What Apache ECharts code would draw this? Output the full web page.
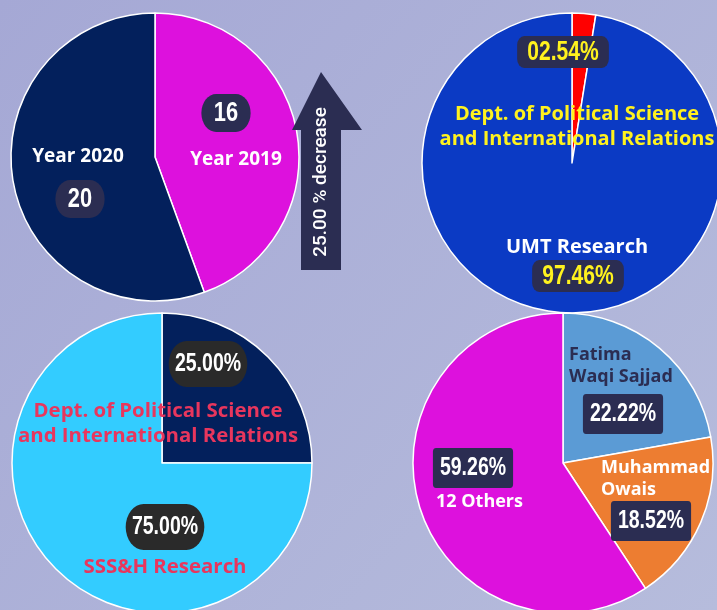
<!DOCTYPE html>
<html>
<head>
<meta charset="utf-8">
<script src="https://cdn.jsdelivr.net/npm/echarts@6/dist/echarts.min.js"></script>
<style>
  html, body { margin: 0; padding: 0; }
  #chart { width: 717px; height: 610px; }
</style>
</head>
<body>
<div id="chart"></div>
<script>
// data
const yearNames = ["Year 2019", "Year 2020"];
const yearValues = [16, 20];

const umtNames = ["Dept. of Political Science\nand International Relations", "UMT Research"];
const umtShares = [2.54, 97.46];

const sssNames = ["Dept. of Political Science\nand International Relations", "SSS&H Research"];
const sssShares = [25, 75];

const authorNames = ["Fatima\nWaqi Sajjad", "Muhammad\nOwais", "12 Others"];
const authorCounts = [6, 5, 16];

const NUM_FONT = '"Liberation Sans", Arial, sans-serif';
const NAME_FONT = '"Open Sans", "Noto Sans", sans-serif';
const SQUEEZE = 0.78; // value boxes use a condensed look

const pctText = (p) => p.toFixed(2).padStart(5, "0") + "%";

// layout of each pie: center, radius, colours and where labels sit (offset from center)
const pies = [
  {
    names: yearNames, values: yearValues,
    center: [155, 157], radius: 144,
    colors: ["#DD11DD", "#03205C"],
    valueText: (p) => String(p.value),
    box: { color: "#fff", backgroundColor: "#2B2D52", borderRadius: 19, padding: [5, 16, 5, 16], fontSize: 28 },
    valuePos: [[71, -44], [-75, 42]],
    nameColors: ["#fff", "#fff"], nameSize: 19, nameLH: 22,
    namePos: [[81, 3, "center"], [-77, 0, "center"]]
  },
  {
    names: umtNames, values: umtShares,
    center: [572, 163], radius: 150,
    colors: ["#FF0000", "#0B3AC4"],
    valueText: (p) => pctText(p.percent),
    box: { color: "#FFF21E", backgroundColor: "#2B2D52", borderRadius: 9, padding: [3, 13, 2, 13], fontSize: 27 },
    valuePos: [[-9, -111], [6, 113]],
    nameColors: ["#FFF21E", "#fff"], nameSize: 20, nameLH: 25,
    namePos: [[5, -36, "center"], [5, 84, "center"]]
  },
  {
    names: sssNames, values: sssShares,
    center: [162, 463], radius: 150,
    colors: ["#03205C", "#33CCFF"],
    valueText: (p) => pctText(p.percent),
    box: { color: "#fff", backgroundColor: "#2A2A2A", borderRadius: 23, padding: [11, 8, 10, 8], fontSize: 25 },
    valuePos: [[46, -99], [3, 64]],
    nameColors: ["#E8365D", "#E8365D"], nameSize: 20.4, nameLH: 25,
    namePos: [[-4, -39, "center"], [3, 104, "center"]]
  },
  {
    names: authorNames, values: authorCounts,
    center: [563, 463], radius: 150,
    colors: ["#5B9BD5", "#ED7D31", "#DD11DD"],
    valueText: (p) => pctText(p.percent),
    box: { color: "#fff", backgroundColor: "#2B2D52", borderRadius: 4, padding: [8, 9, 7, 9], fontSize: 25 },
    valuePos: [[60, -49], [88, 58], [-90, 5]],
    nameColors: ["#2B2D52", "#fff", "#fff"], nameSize: 18, nameLH: 22,
    namePos: [[6, -97, "left"], [38, 16, "left"], [-127, 39, "left"]]
  }
];

const chart = echarts.init(document.getElementById("chart"), null, { renderer: "canvas" });

const series = [];
pies.forEach((pie) => {
  const data = pie.names.map((n, i) => ({
    name: n,
    value: pie.values[i],
    itemStyle: { color: pie.colors[i] }
  }));
  const base = {
    type: "pie",
    center: pie.center,
    radius: pie.radius,
    startAngle: 90,
    clockwise: true,
    animation: false,
    labelLine: { show: false },
    emphasis: { disabled: true }
  };
  // slices + value boxes
  series.push(Object.assign({}, base, {
    data: data,
    itemStyle: { borderColor: "#fff", borderWidth: 1.5 },
    label: {
      show: true,
      position: "inside",
      formatter: (p) => "{v|" + pie.valueText(p) + "}",
      rich: { v: Object.assign({ fontFamily: NUM_FONT, fontWeight: "bold" }, pie.box) }
    },
    labelLayout: (p) => ({
      x: pie.center[0] + pie.valuePos[p.dataIndex][0],
      y: pie.center[1] + pie.valuePos[p.dataIndex][1],
      align: "center",
      verticalAlign: "middle"
    })
  }));
  // name labels on a transparent copy
  series.push(Object.assign({}, base, {
    silent: true,
    z: 3,
    data: data.map((d, i) => ({
      name: d.name,
      value: d.value,
      itemStyle: { color: "rgba(0,0,0,0)" },
      label: { color: pie.nameColors[i] }
    })),
    itemStyle: { borderWidth: 0 },
    label: {
      show: true,
      position: "inside",
      formatter: "{b}",
      fontFamily: NAME_FONT,
      fontWeight: "bold",
      fontSize: pie.nameSize,
      lineHeight: pie.nameLH
    },
    labelLayout: (p) => ({
      x: pie.center[0] + pie.namePos[p.dataIndex][0],
      y: pie.center[1] + pie.namePos[p.dataIndex][1],
      align: pie.namePos[p.dataIndex][2],
      verticalAlign: "middle"
    })
  }));
});

const change = ((yearValues[1] - yearValues[0]) / yearValues[0] * 100).toFixed(2);

chart.setOption({
  backgroundColor: {
    type: "linear", x: 0, y: 0, x2: 1, y2: 1,
    colorStops: [
      { offset: 0, color: "#A5A8D5" },
      { offset: 1, color: "#B6BCDC" }
    ]
  },
  graphic: [
    {
      type: "polygon",
      shape: { points: [[321, 72], [362, 130], [341, 130], [341, 270], [301, 270], [301, 130], [292, 130]] },
      style: { fill: "#2B2D52" },
      z: 10
    },
    {
      type: "text",
      x: 321, y: 182,
      rotation: Math.PI / 2,
      style: {
        text: change + " % decrease",
        fill: "#fff",
        font: '500 19px Roboto, "Noto Sans", sans-serif',
        align: "center",
        verticalAlign: "middle"
      },
      z: 11
    }
  ],
  series: series
});

// squeeze the value boxes horizontally (no condensed font installed)
chart.getModel().eachSeries((s, idx) => {
  if (idx % 2) return;
  const d = s.getData();
  d.each((i) => {
    const el = d.getItemGraphicEl(i);
    const t = el && el.getTextContent();
    if (t) {
      t.scaleX = SQUEEZE;
      t.markRedraw();
    }
  });
});
chart.getZr().refreshImmediately();
</script>
</body>
</html>
